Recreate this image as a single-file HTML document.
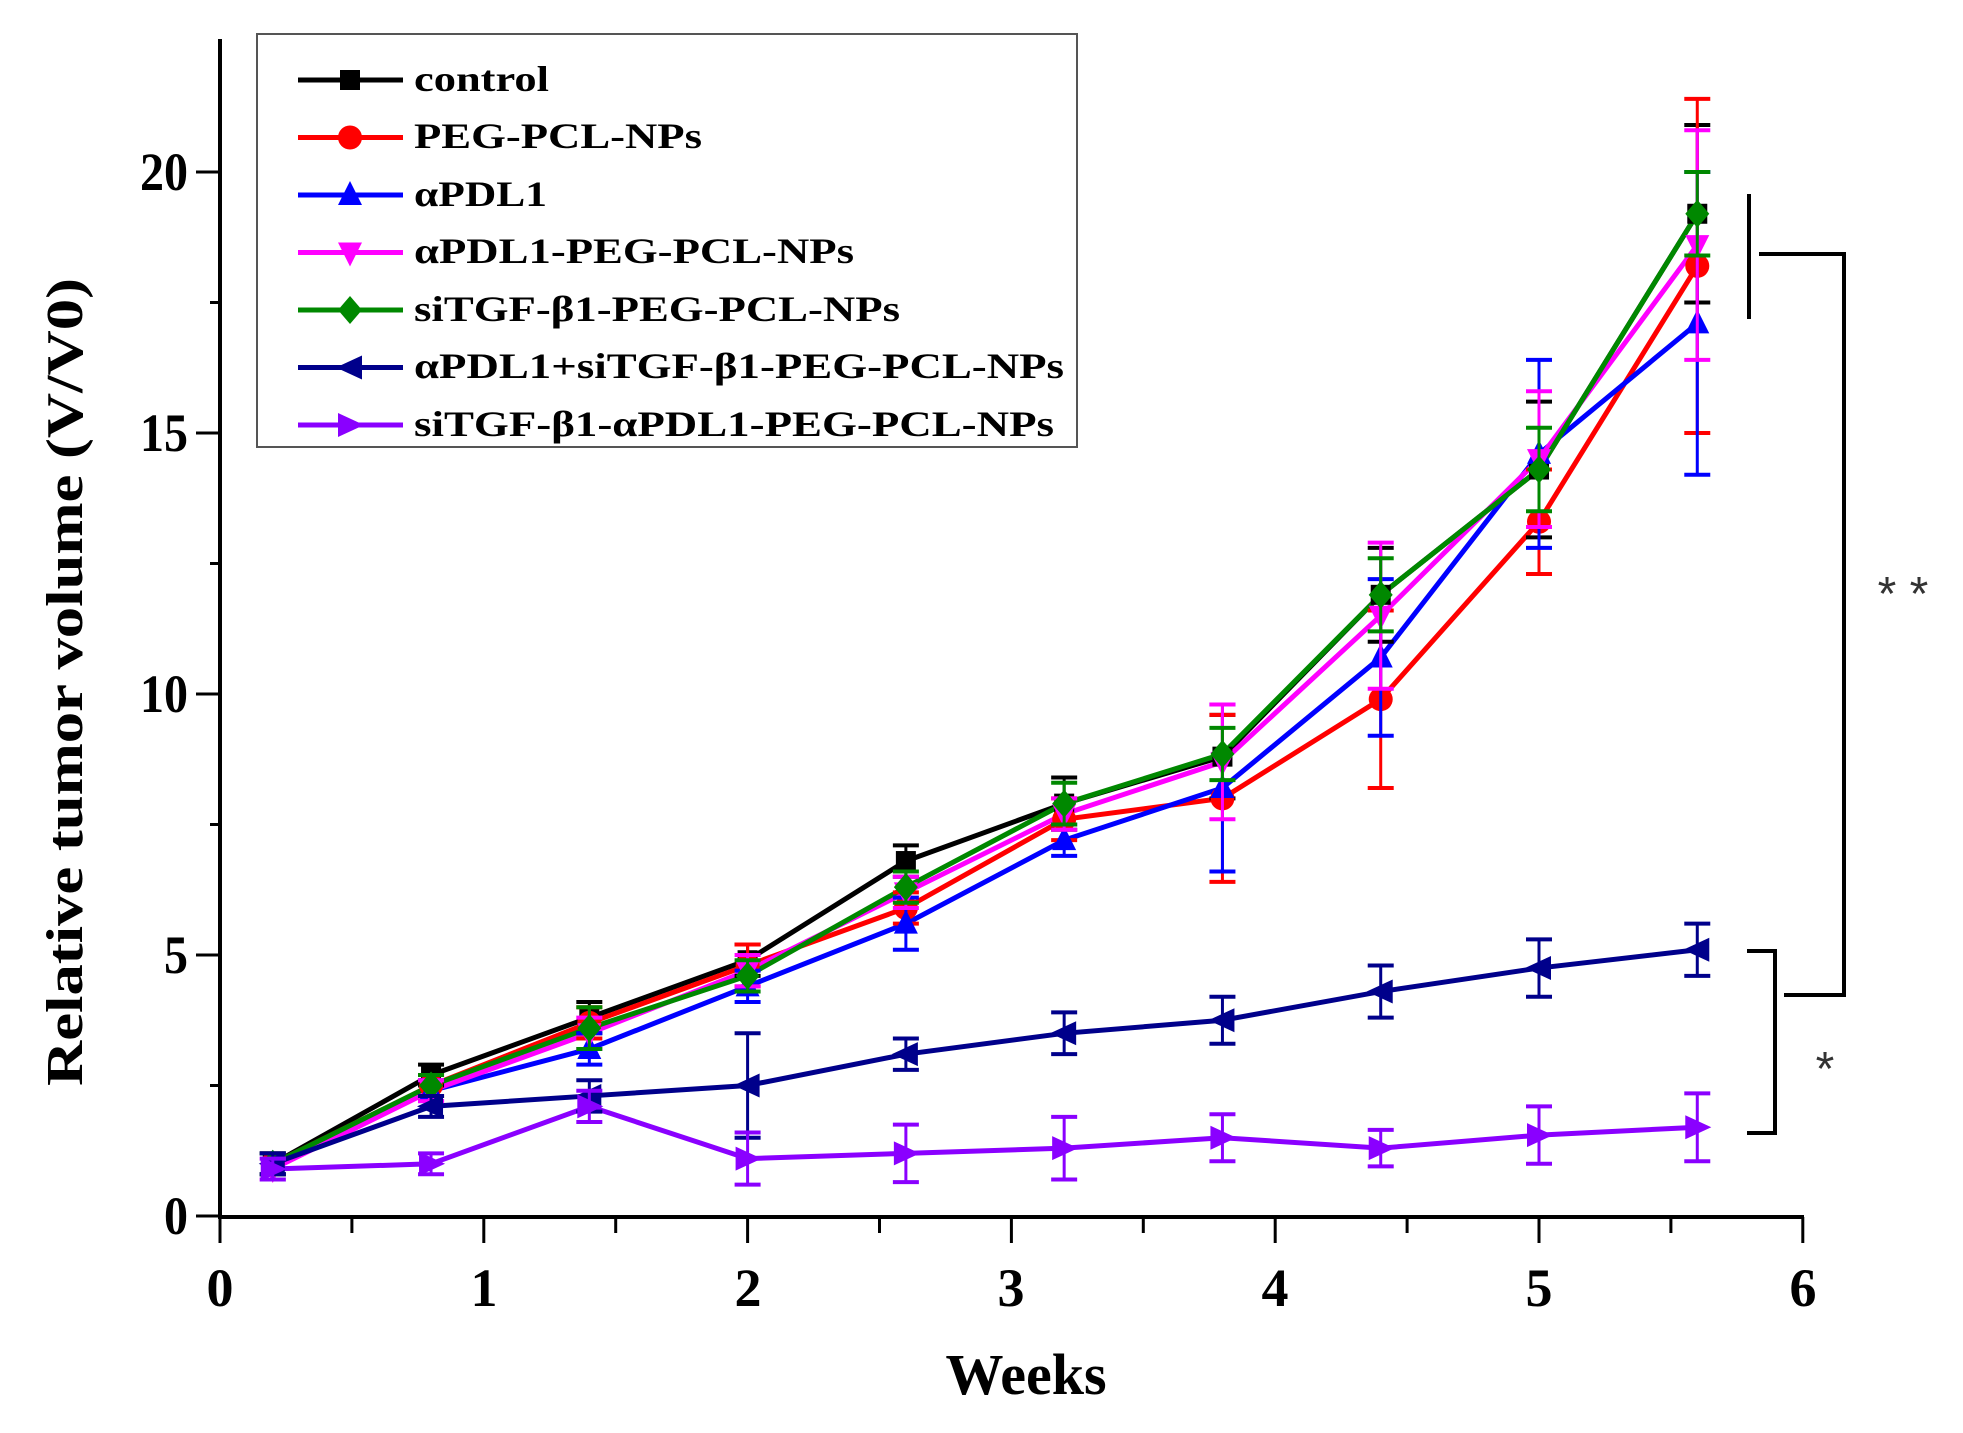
<!DOCTYPE html>
<html><head><meta charset="utf-8"><style>
html,body{margin:0;padding:0;background:#fff;}
svg{display:block;font-family:"Liberation Serif",serif;font-weight:bold;}
</style></head><body>
<svg id="s" width="1963" height="1433" viewBox="0 0 1963 1433" xmlns="http://www.w3.org/2000/svg">
<g stroke="#000" stroke-width="4" fill="none">
<line x1="220" y1="39" x2="220" y2="1219"/>
<line x1="218" y1="1217" x2="1804" y2="1217"/>
</g>
<g id="ticks" stroke="#000" stroke-width="3"></g>
<g font-size="54" fill="#000" text-anchor="end">
<text x="188" y="1234" textLength="24" lengthAdjust="spacingAndGlyphs">0</text>
<text x="188" y="973" textLength="24" lengthAdjust="spacingAndGlyphs">5</text>
<text x="188" y="712" textLength="48" lengthAdjust="spacingAndGlyphs">10</text>
<text x="188" y="451" textLength="48" lengthAdjust="spacingAndGlyphs">15</text>
<text x="188" y="190" textLength="48" lengthAdjust="spacingAndGlyphs">20</text>
</g>
<g font-size="54" fill="#000" text-anchor="middle">
<text x="220" y="1306">0</text><text x="484" y="1306">1</text><text x="748" y="1306">2</text><text x="1011" y="1306">3</text><text x="1275" y="1306">4</text><text x="1539" y="1306">5</text><text x="1803" y="1306">6</text>
</g>
<text x="1026" y="1394" font-size="58" text-anchor="middle">Weeks</text>
<text transform="translate(82,682) rotate(-90)" font-size="52" text-anchor="middle" textLength="808" lengthAdjust="spacingAndGlyphs">Relative tumor volume (V/V0)</text>
<rect x="257" y="34" width="820" height="413" fill="#fff" stroke="#555" stroke-width="2"/>
<g id="data"></g>
<g id="leg"></g>
<g font-size="36" fill="#000" font-family="Liberation Serif, serif">
<text x="414" y="91" textLength="135" lengthAdjust="spacingAndGlyphs">control</text>
<text x="414" y="148" textLength="288" lengthAdjust="spacingAndGlyphs">PEG-PCL-NPs</text>
<text x="414" y="206" textLength="133" lengthAdjust="spacingAndGlyphs">αPDL1</text>
<text x="414" y="263" textLength="440" lengthAdjust="spacingAndGlyphs">αPDL1-PEG-PCL-NPs</text>
<text x="414" y="321" textLength="486" lengthAdjust="spacingAndGlyphs">siTGF-β1-PEG-PCL-NPs</text>
<text x="414" y="378" textLength="650" lengthAdjust="spacingAndGlyphs">αPDL1+siTGF-β1-PEG-PCL-NPs</text>
<text x="414" y="436" textLength="640" lengthAdjust="spacingAndGlyphs">siTGF-β1-αPDL1-PEG-PCL-NPs</text>
</g>
<g stroke="#000" stroke-width="4" fill="none">
<line x1="1749" y1="194" x2="1749" y2="319"/>
<polyline points="1759,254 1844,254 1844,995 1784,995"/>
<polyline points="1747,951 1775,951 1775,1133 1747,1133"/>
</g>
<text x="1903" y="610" font-size="48" font-weight="normal" font-family="Liberation Sans, sans-serif" fill="#333" text-anchor="middle">* *</text>
<text x="1825" y="1085" font-size="48" font-weight="normal" font-family="Liberation Sans, sans-serif" fill="#333" text-anchor="middle">*</text>
</svg>
<script>
var NS="http://www.w3.org/2000/svg";
function el(p,t,a){var e=document.createElementNS(NS,t);for(var k in a)e.setAttribute(k,a[k]);p.appendChild(e);return e;}
var tk=document.getElementById("ticks");
for(var i=0;i<=8;i++){var y=1216-i*130.5;el(tk,"line",{x1:i%2?210:196,y1:y,x2:220,y2:y});}
for(var i=0;i<=12;i++){var x=220+i*131.9;el(tk,"line",{x1:x,y1:1217,x2:x,y2:i%2?1233:1243});}
function X(v){return 220+v*263.8}function Y(v){return 1216-v*52.2}
var xs=[0.2,0.8,1.4,2,2.6,3.2,3.8,4.4,5,5.6];
var S=[
["#000","sq",[1,2.7,3.8,4.9,6.8,7.9,8.8,11.9,14.3,19.2],[.2,.2,.3,.3,.3,.5,.8,.9,1.3,1.7]],
["#f00","ci",[1,2.5,3.7,4.8,5.9,7.6,8.0,9.9,13.3,18.2],[.2,.2,.3,.4,.3,.4,1.6,1.7,1.0,3.2]],
["#00f","up",[1,2.4,3.2,4.4,5.6,7.2,8.2,10.7,14.6,17.1],[.2,.2,.3,.3,.5,.3,1.6,1.5,1.8,2.9]],
["#f0f","dn",[0.9,2.4,3.5,4.7,6.2,7.7,8.7,11.5,14.5,18.6],[.2,.2,.3,.3,.3,.3,1.1,1.4,1.3,2.2]],
["#080","di",[1,2.5,3.6,4.6,6.3,7.9,8.85,11.9,14.3,19.2],[.2,.2,.4,.3,.3,.4,.5,.7,.8,.8]],
["#00008b","lt",[1,2.1,2.3,2.5,3.1,3.5,3.75,4.3,4.75,5.1],[.2,.2,.3,1.0,.3,.4,.45,.5,.55,.5]],
["#8a00ff","rt",[0.9,1.0,2.1,1.1,1.2,1.3,1.5,1.3,1.55,1.7],[.2,.2,.3,.5,.55,.6,.45,.35,.55,.65]]];
function mk(g,t,x,y,c,r){r=r||12;
 if(t=="sq")el(g,"rect",{x:x-r+2,y:y-r+2,width:2*r-4,height:2*r-4,fill:c});
 else if(t=="ci")el(g,"circle",{cx:x,cy:y,r:r,fill:c});
 else{var p;
 if(t=="up")p=[[x,y-r-2],[x-r,y+r-2],[x+r,y+r-2]];
 if(t=="dn")p=[[x,y+r+2],[x-r,y-r+2],[x+r,y-r+2]];
 if(t=="di")p=[[x,y-r-2],[x+r,y],[x,y+r+2],[x-r,y]];
 if(t=="lt")p=[[x-r-2,y],[x+r,y-r],[x+r,y+r]];
 if(t=="rt")p=[[x+r+2,y],[x-r,y-r],[x-r,y+r]];
 el(g,"polygon",{points:p.map(function(a){return a.join(",")}).join(" "),fill:c});}}
var g=document.getElementById("data");
S.forEach(function(s){
 var pts=xs.map(function(x,i){return X(x)+","+Y(s[2][i])}).join(" ");
 el(g,"polyline",{points:pts,fill:"none",stroke:s[0],"stroke-width":5});
});
S.forEach(function(s){
 xs.forEach(function(x,i){var cx=X(x),y1=Y(s[2][i]+s[3][i]),y2=Y(s[2][i]-s[3][i]);
  el(g,"line",{x1:cx,y1:y1,x2:cx,y2:y2,stroke:s[0],"stroke-width":3});
  el(g,"line",{x1:cx-13,y1:y1,x2:cx+13,y2:y1,stroke:s[0],"stroke-width":4});
  el(g,"line",{x1:cx-13,y1:y2,x2:cx+13,y2:y2,stroke:s[0],"stroke-width":4});
  mk(g,s[1],cx,Y(s[2][i]),s[0]);});
});
var lg=document.getElementById("leg");
S.forEach(function(s,i){var y=80+i*57.5;
 el(lg,"line",{x1:298,y1:y,x2:403,y2:y,stroke:s[0],"stroke-width":5});
 mk(lg,s[1],350,y,s[0],12);});
</script>
</body></html>
